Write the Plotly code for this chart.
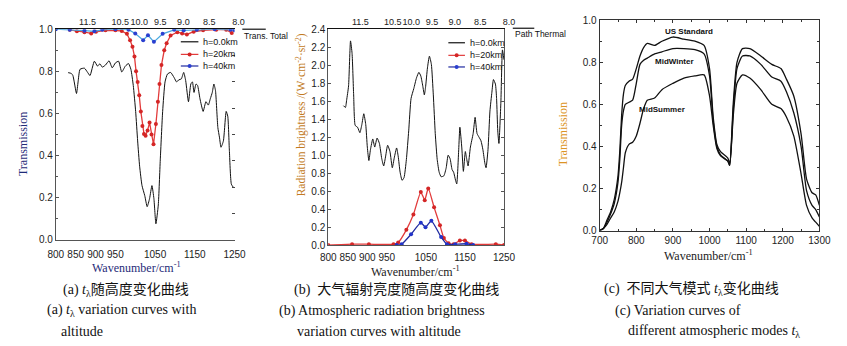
import plotly.graph_objects as go

W, H = 847, 346

# ---------------- (a) transmittance vs altitude ----------------
a_wn_h0 = [831, 839, 843, 852, 856, 861, 872, 880, 886, 897, 905, 911, 917, 925, 934, 942, 950, 958, 966, 975,
           983, 989, 995, 1001, 1006, 1011, 1017, 1024, 1030, 1036, 1042, 1047, 1052, 1058, 1063, 1069, 1075, 1081, 1089, 1098,
           1104, 1110, 1116, 1122, 1127, 1134, 1140, 1144, 1148, 1153, 1157, 1163, 1171, 1178, 1184, 1189, 1194, 1198, 1202, 1208,
           1212, 1216, 1222, 1229, 1233, 1237, 1242, 1247]
a_t_h0 = [0.794, 0.79, 0.78, 0.695, 0.75, 0.81, 0.815, 0.795, 0.78, 0.848, 0.825, 0.836, 0.82, 0.83, 0.85, 0.817, 0.84, 0.848, 0.797, 0.825,
          0.837, 0.81, 0.733, 0.61, 0.47, 0.35, 0.258, 0.21, 0.158, 0.196, 0.258, 0.196, 0.077, 0.166, 0.38, 0.61, 0.75, 0.787, 0.795, 0.77,
          0.75, 0.76, 0.764, 0.795, 0.756, 0.656, 0.74, 0.75, 0.70, 0.74, 0.733, 0.67, 0.61, 0.656, 0.64, 0.67, 0.70, 0.74, 0.71, 0.534,
          0.488, 0.44, 0.47, 0.61, 0.587, 0.426, 0.265, 0.25]

a_wn_h20 = [835, 853, 872, 889, 901, 925, 950, 966, 979, 987, 993, 998, 1002, 1006, 1010, 1014, 1018, 1022, 1026, 1031,
            1036, 1041, 1046, 1052, 1057, 1061, 1066, 1073, 1079, 1089, 1106, 1118, 1130, 1147, 1171, 1204, 1229, 1243]
a_t_h20 = [0.997, 0.99, 0.986, 0.98, 0.988, 0.995, 0.995, 0.992, 0.978, 0.948, 0.917, 0.871, 0.80, 0.75, 0.687, 0.61, 0.541, 0.503, 0.495, 0.52,
           0.557, 0.50, 0.454, 0.55, 0.656, 0.74, 0.83, 0.90, 0.933, 0.97, 0.986, 0.98, 0.975, 0.988, 0.995, 0.998, 0.998, 0.982]

a_wn_h40 = [800, 835, 872, 897, 917, 950, 983, 1000, 1020, 1032, 1047, 1069, 1098, 1122, 1155, 1200, 1240, 1250]
a_t_h40 = [1.0, 0.998, 0.993, 0.99, 0.997, 1.0, 0.998, 0.98, 0.948, 0.971, 0.94, 0.978, 0.997, 0.994, 0.998, 1.0, 0.997, 0.995]

# ---------------- (b) path radiance vs altitude ----------------
b_wn_h0 = [839, 844, 847, 852, 857, 861, 865, 869, 875, 881, 886, 891, 896, 900, 904, 908, 914, 919, 925, 931,
           937, 942, 947, 952, 958, 964, 969, 975, 979, 984, 989, 994, 1000, 1006, 1012, 1019, 1026, 1032, 1037, 1042,
           1046, 1049, 1054, 1059, 1064, 1069, 1074, 1079, 1084, 1089, 1096, 1102, 1107, 1112, 1117, 1121, 1126, 1129, 1134, 1137,
           1142, 1146, 1151, 1154, 1158, 1164, 1171, 1176, 1181, 1186, 1191, 1196, 1201, 1204, 1209, 1214, 1219, 1223, 1228, 1231,
           1234, 1237, 1242, 1246, 1250]
b_rad_h0 = [1.55, 1.53, 1.61, 1.77, 2.27, 2.13, 1.67, 1.33, 1.31, 1.25, 1.34, 1.46, 1.34, 1.09, 0.94, 1.06, 1.18, 1.09, 1.19, 1.13,
            0.96, 0.88, 0.99, 1.11, 1.04, 0.86, 0.97, 1.08, 0.99, 0.81, 0.72, 0.75, 0.95, 1.27, 1.63, 1.74, 1.86, 1.92, 1.88, 1.77,
            1.67, 1.75, 1.97, 2.10, 2.01, 1.67, 1.24, 0.95, 0.81, 0.76, 0.77, 0.86, 1.00, 0.96, 0.84, 0.81, 0.72, 0.68, 1.06, 1.31,
            1.08, 0.82, 1.04, 0.97, 0.88, 1.09, 1.24, 1.42, 1.24, 1.20, 1.16, 1.06, 0.91, 0.86, 1.06, 1.49, 1.70, 1.84, 1.79, 1.63,
            1.27, 1.13, 1.59, 2.17, 2.06]

b_wn_h20 = [800, 861, 904, 967, 979, 1000, 1018, 1037, 1047, 1056, 1071, 1086, 1096, 1108, 1121, 1137, 1150, 1167, 1229, 1250]
b_rad_h20 = [0.0, 0.01, 0.01, 0.01, 0.03, 0.17, 0.34, 0.59, 0.50, 0.63, 0.42, 0.22, 0.08, 0.02, 0.01, 0.05, 0.05, 0.01, 0.01, 0.0]

b_wn_h40 = [975, 988, 1012, 1037, 1049, 1064, 1089, 1104, 1125, 1154, 1171]
b_rad_h40 = [0.0, 0.01, 0.12, 0.25, 0.20, 0.27, 0.09, 0.01, 0.01, 0.015, 0.0]

# ---------------- (c) transmittance for atmosphere models ----------------
c_wn = [700, 710, 720, 730, 740, 750, 755, 760, 765, 770, 780, 790, 800, 810, 820, 830, 850, 870, 900, 930, 960,
        985, 1000, 1010, 1020, 1030, 1050, 1055, 1065, 1075, 1090, 1110, 1140, 1170, 1195, 1210, 1230, 1250, 1265,
        1280, 1290, 1300]
c_us_standard = [0, 0.01, 0.05, 0.09, 0.15, 0.26, 0.38, 0.55, 0.65, 0.69, 0.71, 0.72, 0.77, 0.83, 0.87, 0.89, 0.88, 0.90, 0.92, 0.91, 0.90,
                 0.88, 0.77, 0.54, 0.41, 0.375, 0.345, 0.32, 0.61, 0.80, 0.865, 0.865, 0.83, 0.79, 0.77, 0.72, 0.64, 0.46, 0.245,
                 0.18, 0.17, 0.12]
c_mid_winter = [0, 0.01, 0.04, 0.08, 0.13, 0.23, 0.34, 0.50, 0.57, 0.60, 0.61, 0.62, 0.70, 0.79, 0.81, 0.82, 0.84, 0.85, 0.865, 0.865, 0.86,
                0.84, 0.735, 0.52, 0.40, 0.36, 0.33, 0.31, 0.58, 0.77, 0.83, 0.83, 0.79, 0.73, 0.71, 0.66, 0.56, 0.40, 0.19,
                0.12, 0.10, 0.065]
c_mid_summer = [0, 0.01, 0.03, 0.06, 0.09, 0.14, 0.18, 0.23, 0.30, 0.37, 0.41, 0.42, 0.45, 0.51, 0.58, 0.62, 0.63, 0.67, 0.70, 0.725, 0.735,
                0.74, 0.64, 0.50, 0.39, 0.355, 0.33, 0.31, 0.55, 0.70, 0.74, 0.725, 0.67, 0.60, 0.58, 0.54, 0.45, 0.27, 0.12,
                0.06, 0.04, 0.02]
c_model_names = ["US Standard", "MidWinter", "MidSummer"]

# ---------------- axis labels ----------------
ab_wn_ticks = [800, 850, 900, 950, 1050, 1150, 1250]
wavelength_ticks = [11.5, 10.5, 10.0, 9.5, 9.0, 8.5, 8.0]
c_wn_ticks = [700, 800, 900, 1000, 1100, 1200, 1300]
legend_names = ["h=0.0km", "h=20km", "h=40km"]

SANS = "Liberation Sans, Arial, sans-serif"
SERIF = "Liberation Serif, Times New Roman, Noto Sans CJK SC, serif"
CJK = "Liberation Serif, Noto Sans CJK SC, serif"
BLACK = "#111"
RED_LINE, RED_MARK = "#e23b3b", "#d42626"
BLUE_LINE_A, BLUE_MARK = "#4aa8df", "#2a3fd0"
BLUE_LINE_B = "#1f2aa0"


def px(x):
    return x / W


def py(y):
    return 1 - y / H


fig = go.Figure()

# (a) traces
fig.add_trace(go.Scatter(x=a_wn_h0, y=a_t_h0, xaxis="x4", yaxis="y", mode="lines", name=legend_names[0],
                         line=dict(color=BLACK, width=1, shape="spline", smoothing=0.5)))
fig.add_trace(go.Scatter(x=a_wn_h20, y=a_t_h20, xaxis="x", yaxis="y", mode="lines+markers", name=legend_names[1],
                         line=dict(color=RED_LINE, width=1.3), marker=dict(color=RED_MARK, size=4)))
fig.add_trace(go.Scatter(x=a_wn_h40, y=a_t_h40, xaxis="x", yaxis="y4", mode="lines+markers", name=legend_names[2],
                         line=dict(color=BLUE_LINE_A, width=1.3), marker=dict(color=BLUE_MARK, size=4)))

# (b) traces
fig.add_trace(go.Scatter(x=b_wn_h0, y=b_rad_h0, xaxis="x5", yaxis="y2", mode="lines", name=legend_names[0],
                         line=dict(color=BLACK, width=1, shape="spline", smoothing=0.5)))
fig.add_trace(go.Scatter(x=b_wn_h20, y=b_rad_h20, xaxis="x2", yaxis="y2", mode="lines+markers", name=legend_names[1],
                         line=dict(color=RED_LINE, width=1.3, shape="spline", smoothing=0.5),
                         marker=dict(color=RED_MARK, size=4)))
fig.add_trace(go.Scatter(x=b_wn_h40, y=b_rad_h40, xaxis="x2", yaxis="y2", mode="lines+markers", name=legend_names[2],
                         line=dict(color=BLUE_LINE_B, width=1.3, shape="spline", smoothing=0.5),
                         marker=dict(color="#2233c8", size=4)))

# (c) traces
for name, vals in zip(c_model_names, (c_us_standard, c_mid_winter, c_mid_summer)):
    fig.add_trace(go.Scatter(x=c_wn, y=vals, xaxis="x3", yaxis="y3", mode="lines", name=name,
                             line=dict(color=BLACK, width=1.3, shape="spline", smoothing=0.6)))

tickfont = dict(family=SANS, size=10, color="#222")
top_tickfont = dict(family=SANS, size=9, color="#222")
top_tickvals = [10000 / w for w in wavelength_ticks]
top_ticktext = [f"{w:.1f}" for w in wavelength_ticks]

left_axis = dict(showline=True, linecolor="#555", linewidth=1, ticks="inside", ticklen=3, tickcolor="#555",
                 showgrid=False, zeroline=False, tickfont=tickfont)

fig.update_layout(
    width=W, height=H, margin=dict(l=0, r=0, t=0, b=0),
    paper_bgcolor="white", plot_bgcolor="white", showlegend=False,
    # (a)
    xaxis=dict(domain=[px(49), px(232)], anchor="y", range=[800, 1250], tickvals=ab_wn_ticks, tickangle=0,
               showline=True, linecolor="#555", ticks="", showgrid=False, zeroline=False, tickfont=tickfont,
               ticklabelstandoff=5),
    yaxis=dict(domain=[py(242.7), py(25)], anchor="x", range=[0, 1.0], dtick=0.2, tickformat=".1f",
               minor=dict(dtick=0.1, ticks="inside", ticklen=2, tickcolor="#555"), **left_axis),
    xaxis4=dict(overlaying="x", side="top", anchor="y", range=[800, 1250], tickvals=top_tickvals,
                ticktext=top_ticktext, tickangle=0, showline=True, linecolor=BLACK, ticks="", showgrid=False,
                zeroline=False, tickfont=top_tickfont, ticklabelshift=4),
    yaxis4=dict(overlaying="y", side="right", anchor="x", range=[0, 1.0], dtick=0.125, showticklabels=False,
                ticks="inside", ticklen=3, tickcolor="#444", showline=False, showgrid=False, zeroline=False),
    # (b)
    xaxis2=dict(domain=[px(328), px(508)], anchor="y2", range=[800, 1250], tickvals=ab_wn_ticks, tickangle=0,
                showline=True, linecolor="#555", ticks="", showgrid=False, zeroline=False, tickfont=tickfont,
                ticklabelstandoff=3),
    yaxis2=dict(domain=[py(248), py(25)], anchor="x2", range=[0, 2.4], dtick=0.2, tickformat=".1f",
                mirror="ticks", **left_axis),
    xaxis5=dict(overlaying="x2", side="top", anchor="y2", range=[800, 1250], tickvals=top_tickvals,
                ticktext=top_ticktext, tickangle=0, showline=True, linecolor=BLACK, ticks="", showgrid=False,
                zeroline=False, tickfont=top_tickfont, ticklabelshift=5),
    # (c)
    xaxis3=dict(domain=[px(606), px(831)], anchor="y3", range=[700, 1300], tickvals=c_wn_ticks, tickangle=0,
                showline=True, linecolor="#333", mirror="ticks", ticks="inside", ticklen=3, tickcolor="#333",
                minor=dict(dtick=50, ticks="inside", ticklen=2, tickcolor="#333"),
                showgrid=False, zeroline=False, tickfont=tickfont),
    yaxis3=dict(domain=[py(233), py(15.7)], anchor="x3", range=[0, 1.0], dtick=0.2, tickformat=".1f",
                showline=True, linecolor="#333", mirror="ticks", ticks="inside", ticklen=3, tickcolor="#333",
                minor=dict(dtick=0.1, ticks="inside", ticklen=2, tickcolor="#333"),
                showgrid=False, zeroline=False, tickfont=tickfont),
)


def hline(x0, x1, y, color, width=1.2):
    fig.add_shape(type="line", xref="paper", yref="paper", x0=px(x0), x1=px(x1), y0=py(y), y1=py(y),
                  line=dict(color=color, width=width))


def dot(x, y, color):
    fig.add_shape(type="circle", xref="paper", yref="paper", xsizemode="pixel", ysizemode="pixel",
                  xanchor=px(x), yanchor=py(y), x0=-2, x1=2, y0=-2, y1=2,
                  fillcolor=color, line=dict(width=0))


ann = []

# Compact in-plot legends for (a) and (b)
legend_styles = [(BLACK, None), (RED_LINE, RED_MARK), (BLUE_LINE_B, BLUE_MARK)]
for (lx0, lx1, rows) in [(177, 195, [38, 51, 63]), (451, 468, [39, 52, 64])]:
    for name, (lc, mc), ry in zip(legend_names, legend_styles, rows):
        hline(lx0, lx1, ry, lc, 1.2)
        if mc:
            dot((lx0 + lx1) / 2, ry, mc)
        ann.append(dict(text=name, x=px(lx1 + 3), y=py(ry), xanchor="left",
                        font=dict(family=SANS, size=9, color=BLACK)))

# Side captions beside the top axes
hline(240, 264, 25, BLACK)
hline(517, 539, 24, BLACK)
ann.append(dict(text="Trans. Total", x=px(240), y=py(32), xanchor="left", font=dict(family=SANS, size=8.5, color=BLACK)))
ann.append(dict(text="Path Thermal", x=px(517), y=py(30), xanchor="left", font=dict(family=SANS, size=8.5, color=BLACK)))

# Axis titles
ann.append(dict(text="Transmission", x=px(16), y=py(144), textangle=-90,
                font=dict(family=SERIF, size=12, color="#1f2b78")))
ann.append(dict(text="Radiation brightness /(W·cm<sup>-2</sup>·sr<sup>-2</sup>)", x=px(300), y=py(113), textangle=-90,
                font=dict(family=SERIF, size=11.5, color="#c27a22")))
ann.append(dict(text="Transmission", x=px(568), y=py(134), textangle=-90,
                font=dict(family=SERIF, size=12, color="#dc9424")))
ann.append(dict(text="Wavenumber/cm<sup>-1</sup>", x=px(132), y=py(271),
                font=dict(family=SERIF, size=12, color="#1f2b78")))
ann.append(dict(text="Wavenumber/cm<sup>-1</sup>", x=px(417), y=py(275),
                font=dict(family=SERIF, size=12, color="#222")))
ann.append(dict(text="Wavenumber/cm<sup>-1</sup>", x=px(717), y=py(259),
                font=dict(family=SERIF, size=12, color="#222")))

# Model names in (c), placed next to their curves
for name, xv, yv in zip(c_model_names, [945, 905, 871], [0.948, 0.805, 0.575]):
    ann.append(dict(text=f"<b>{name}</b>", x=xv, y=yv, xref="x3", yref="y3",
                    font=dict(family="Liberation Sans Narrow, Liberation Sans, sans-serif", size=8, color=BLACK)))

# Figure captions
cap_cn = ["(a) <i>t</i><sub>λ</sub>随高度变化曲线", "(b)  大气辐射亮度随高度变化曲线", "(c)  不同大气模式 <i>t</i><sub>λ</sub>变化曲线"]
cap_cn_x = [121, 398, 700]
for t, xc in zip(cap_cn, cap_cn_x):
    ann.append(dict(text=t, x=px(xc), y=py(294), font=dict(family=CJK, size=14, color=BLACK)))

cap_en = [("(a) <i>t</i><sub>λ</sub> variation curves with", 38, 316), ("altitude", 52, 337),
          ("(b) Atmospheric radiation brightness", 276, 316), ("variation curves with altitude", 294, 337),
          ("(c) Variation curves of", 620, 316), ("different atmospheric modes <i>t</i><sub>λ</sub>", 633, 337)]
for t, xl, yc in cap_en:
    ann.append(dict(text=t, x=px(xl), y=py(yc), xanchor="left", font=dict(family=SERIF, size=14, color=BLACK)))

for a in ann:
    a.setdefault("xref", "paper")
    a.setdefault("yref", "paper")
    a.setdefault("xanchor", "center")
    a.setdefault("yanchor", "middle")
    a["showarrow"] = False
    fig.add_annotation(**a)

fig.write_html("out.html")
